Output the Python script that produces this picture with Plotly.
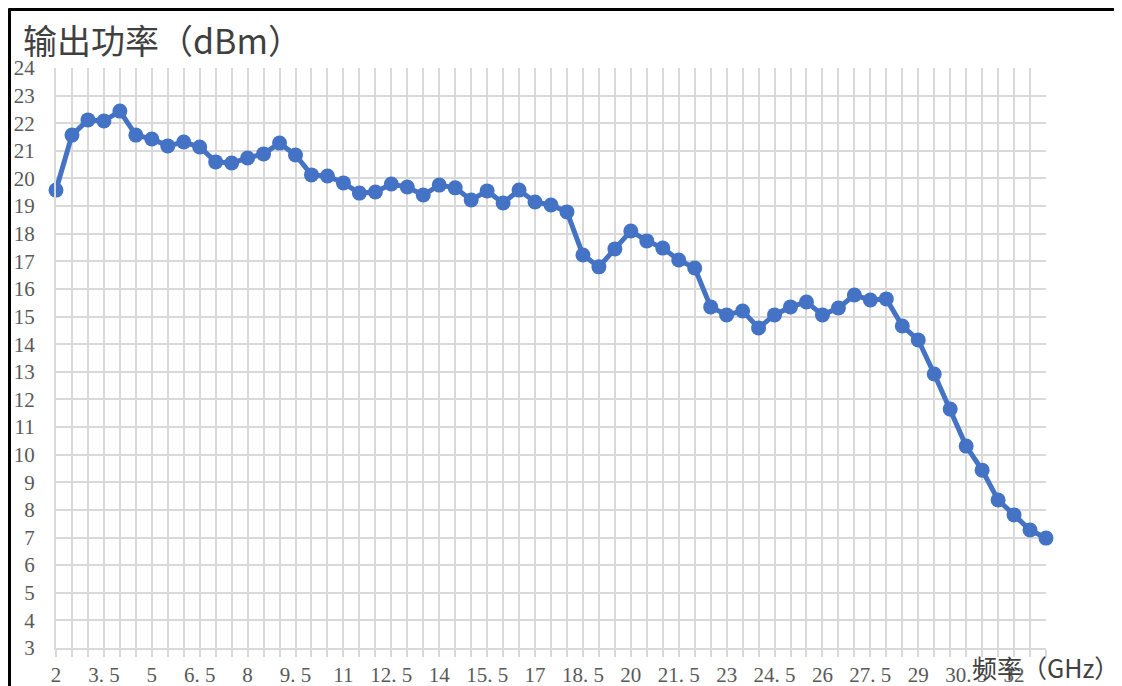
import plotly.graph_objects as go

freq_ghz = [2 + 0.5 * i for i in range(63)]
power_dbm = [19.58, 21.57, 22.12, 22.08, 22.44, 21.57, 21.43, 21.18, 21.32, 21.14,
             20.60, 20.56, 20.74, 20.89, 21.28, 20.85, 20.13, 20.09, 19.84, 19.47,
             19.51, 19.80, 19.69, 19.40, 19.76, 19.66, 19.22, 19.55, 19.11, 19.58,
             19.15, 19.04, 18.79, 17.23, 16.80, 17.45, 18.10, 17.74, 17.48, 17.05,
             16.76, 15.35, 15.06, 15.20, 14.59, 15.06, 15.35, 15.53, 15.06, 15.31,
             15.78, 15.60, 15.64, 14.66, 14.15, 12.92, 11.65, 10.31, 9.44, 8.36,
             7.82, 7.27, 6.98]
x_tick_vals = [2, 3.5, 5, 6.5, 8, 9.5, 11, 12.5, 14, 15.5, 17, 18.5, 20, 21.5, 23,
               24.5, 26, 27.5, 29, 30.5, 32]
x_tick_text = ["2", "3. 5", "5", "6. 5", "8", "9. 5", "11", "12. 5", "14", "15. 5", "17",
               "18. 5", "20", "21. 5", "23", "24. 5", "26", "27. 5", "29", "30. 5", "32"]
y_tick_vals = list(range(3, 25))

title_text = "输出功率（dBm）"
x_title_text = "频率（GHz）"

# figure is placed at (8, 8) in the page by the default body margin
W, H = 1114, 678
L, R, T, B = 48, 76, 60, 38
PW, PH = W - L - R, H - T - B


def px(fx):
    return (fx - L) / PW


def py(fy):
    return (H - B - fy) / PH


fig = go.Figure()
fig.add_trace(go.Scatter(
    x=freq_ghz, y=power_dbm, mode="lines+markers",
    line=dict(color="#4472C4", width=5),
    marker=dict(color="#4472C4", size=15),
    showlegend=False, cliponaxis=False,
))

fig.update_xaxes(
    range=[2, 33], tickmode="array", tickvals=x_tick_vals, ticktext=x_tick_text,
    showgrid=True, gridcolor="#d9d9d9", gridwidth=2,
    minor=dict(dtick=0.5, tick0=2, showgrid=True, gridcolor="#d9d9d9", gridwidth=2,
               ticks="outside", ticklen=7, tickcolor="#d9d9d9", tickwidth=2),
    ticks="outside", ticklen=7, tickcolor="#d9d9d9", tickwidth=2,
    ticklabelstandoff=0,
    showline=True, linecolor="#d9d9d9", linewidth=2,
    zeroline=False, automargin=False,
    tickfont=dict(family="Liberation Serif, Noto Sans CJK SC", size=21, color="#595959"),
)
fig.update_yaxes(
    range=[3, 24], tickmode="array", tickvals=y_tick_vals,
    showgrid=True, gridcolor="#d9d9d9", gridwidth=2,
    showline=True, linecolor="#d9d9d9", linewidth=2, zeroline=False,
    ticks="outside", ticklen=15, tickcolor="rgba(0,0,0,0)", automargin=False,
    tickfont=dict(family="Liberation Serif, Noto Sans CJK SC", size=21, color="#595959"),
)

fig.update_layout(
    width=W, height=H,
    margin=dict(l=L, r=R, t=T, b=B),
    paper_bgcolor="white", plot_bgcolor="white",
    font=dict(family="Noto Sans CJK SC"),
    annotations=[
        dict(text=title_text, xref="paper", yref="paper",
             x=px(13), y=py(32), xanchor="left", yanchor="middle",
             showarrow=False,
             font=dict(family="Noto Sans CJK SC", size=34, color="#404040")),
        dict(text=x_title_text, xref="paper", yref="paper",
             x=px(962), y=py(659), xanchor="left", yanchor="middle",
             showarrow=False,
             font=dict(family="Noto Sans CJK SC", size=25, color="#404040")),
    ],
    shapes=[
        dict(type="line", xref="paper", yref="paper",
             x0=px(0.5), x1=px(W + 10), y0=py(1.5), y1=py(1.5),
             line=dict(color="black", width=3)),
        dict(type="line", xref="paper", yref="paper",
             x0=px(1.5), x1=px(1.5), y0=py(0.5), y1=py(H + 10),
             line=dict(color="black", width=3)),
    ],
)

fig.write_html("out.html")
